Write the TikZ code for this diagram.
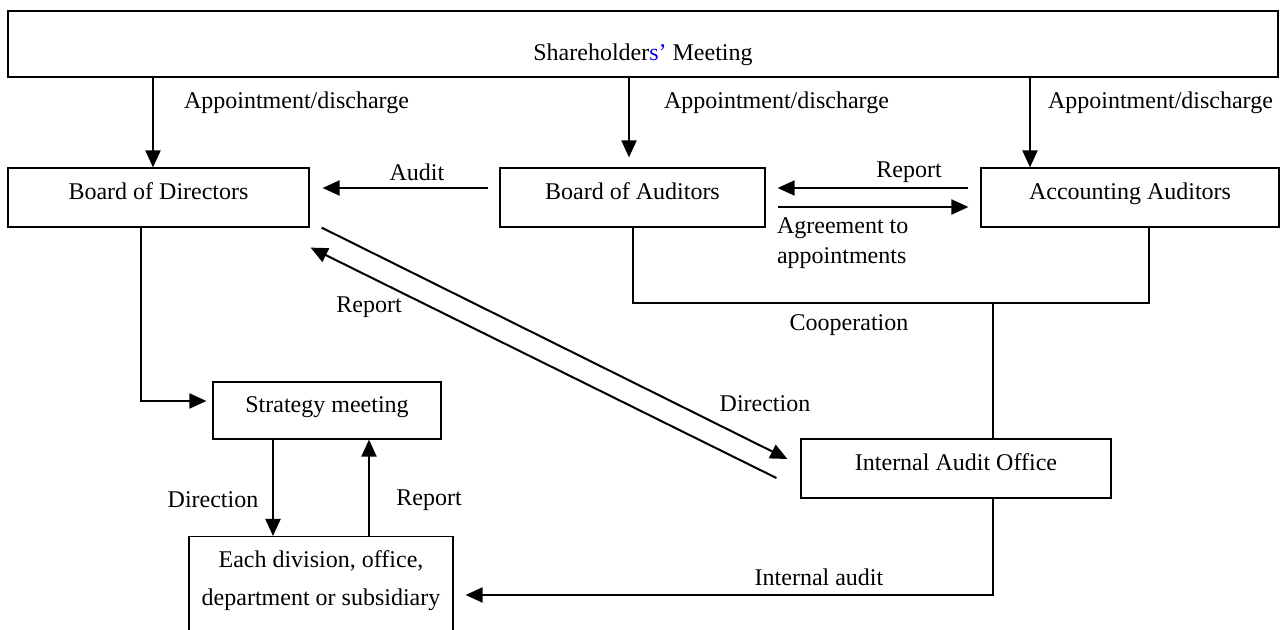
\documentclass[tikz,border=0pt]{standalone}
\usepackage{fontspec}
\setmainfont{Liberation Serif}
\usetikzlibrary{arrows.meta,calc}

\tikzset{
  box/.style={draw, line width=0.6pt, inner sep=0pt, minimum height=29.5pt,
    text height=8.5pt, text depth=6.5pt},
  arr/.style={line width=1pt, -{Triangle[length=8.5pt,width=7.5pt]}},
  link/.style={line width=1pt},
}

\begin{document}
\begin{tikzpicture}[x=0.5pt, y=-0.5pt, font=\fontsize{12}{14.4}\selectfont]
        \useasboundingbox (0,0) rectangle (1280,630);
        \clip (0,0) rectangle (1280,630);
        % boxes
        \node [box, line width=1pt, minimum width=635pt, minimum height=33pt,
          label={[yshift=-5.5pt]center:Shareholder{\color{blue}s'} Meeting}] (sh) at (643,44) {};
        \node [box, minimum width=150.5pt] (bod) at (158.5,197.5) {Board of Directors};
        \node [box, minimum width=132.5pt] (boa) at (632.5,197.5) {Board of Auditors};
        \node [box, minimum width=149pt] (acc) at (1130,197.5) {Accounting Auditors};
        \node [box, minimum width=114pt, minimum height=28.5pt] (strat) at (327,410.5) {Strategy meeting};
        \node [box, minimum width=155pt] (iao) at (956,468.5) {Internal Audit Office};
        \node [box, anchor=north, minimum width=132pt, minimum height=62pt,
          label={[anchor=north, yshift=-4pt, align=center, font=\fontsize{12}{19}\selectfont]north:Each division, office,\\department or subsidiary}] (div) at (321,536) {};
        % appointment / discharge
        \draw [arr] (sh.south -| 153,0) -- (bod.north -| 153,0);
        \draw [arr, shorten >=5pt] (sh.south -| 629,0) -- (boa.north -| 629,0);
        \draw [arr] (sh.south -| 1030,0) -- (acc.north -| 1030,0);
        \path (177,103) node [anchor=west] {Appointment/discharge};
        \path (657,103) node [anchor=west] {Appointment/discharge};
        \path (1041,103) node [anchor=west] {Appointment/discharge};
        % auditors
        \draw [arr] ([xshift=-5.5pt,yshift=4.75pt]boa.west) -- ([xshift=6.5pt,yshift=4.75pt]bod.east);
        \path (417,172) node {Audit};
        \draw [arr] ([xshift=-6pt,yshift=4.75pt]acc.west) -- ([xshift=6pt,yshift=4.75pt]boa.east);
        \draw [arr] ([xshift=6pt,yshift=-4.75pt]boa.east) -- ([xshift=-6pt,yshift=-4.75pt]acc.west);
        \path (909,172) node {Report};
        \path (770,243) node [anchor=west, align=left, font=\fontsize{12}{15}\selectfont] {Agreement to\\appointments};
        % cooperation
        \coordinate (coop) at (993,303);
        \draw [link] (boa.south -| 633,0) |- (coop) -| (acc.south -| 1149,0);
        \draw [link] (coop) -- (iao.north -| coop);
        \path (849,325) node {Cooperation};
        % directors and internal audit office
        \draw [arr] ([xshift=6pt]bod.south east) -- ([xshift=-6.5pt,yshift=4.75pt]iao.west);
        \draw [arr] ([xshift=-12pt,yshift=-4.75pt]iao.west) -- ([xshift=0.5pt,yshift=-10pt]bod.south east);
        \path (765,404) node {Direction};
        \path (369,307) node {Report};
        % strategy meeting
        \draw [arr, shorten >=3pt] (bod.south -| 141,0) |- ([yshift=4.75pt]strat.west);
        \draw [arr] (strat.south -| 273,0) -- (div.north -| 273,0);
        \draw [arr] (div.north -| 369,0) -- (strat.south -| 369,0);
        \path (213,500) node {Direction};
        \path (429,500) node {Report};
        % internal audit
        \coordinate (ia) at (993,595);
        \draw [arr, shorten >=6pt] (iao.south -| ia) -- (ia) -- (div.east |- ia);
        \path (819,577) node {Internal audit};
    \end{tikzpicture}
\end{document}
